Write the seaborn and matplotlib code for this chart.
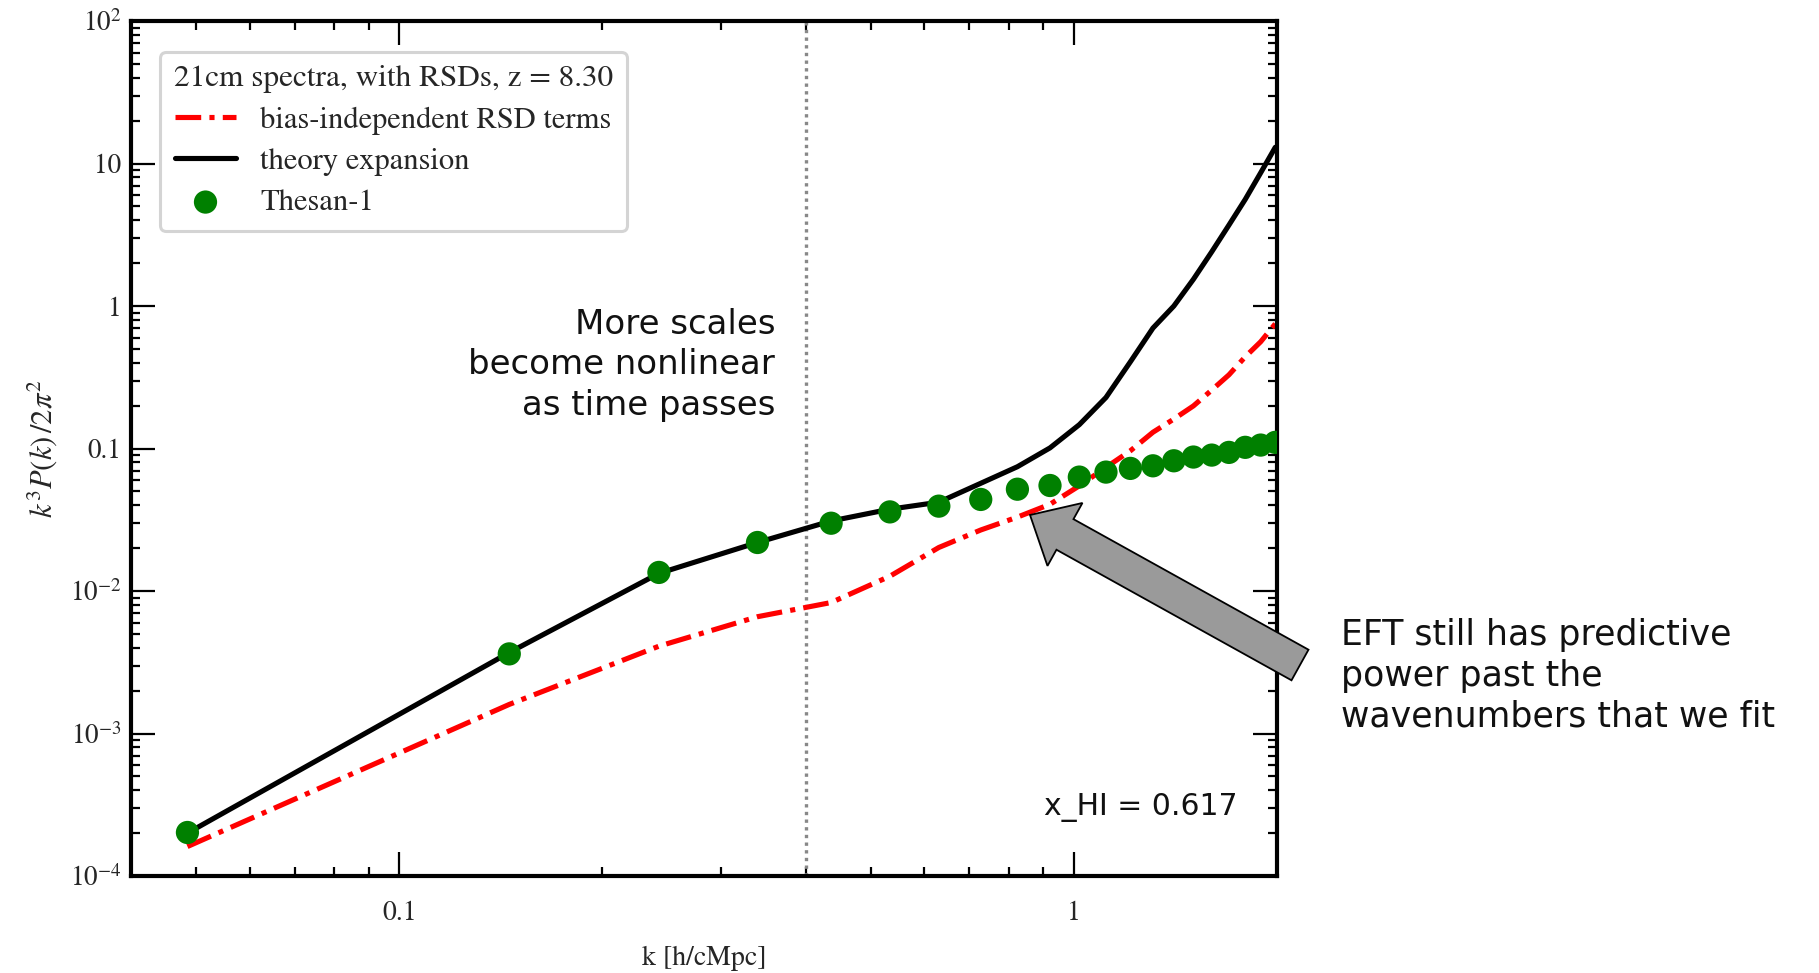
import numpy as np
import pandas as pd
import matplotlib
matplotlib.use("Agg")
import matplotlib.pyplot as plt
import matplotlib.patches as mpatches
from matplotlib.ticker import FixedLocator, FixedFormatter, LogLocator, NullFormatter
import seaborn as sns

# ---- data ----
k_vals = [0.0485, 0.1455, 0.2425, 0.3395, 0.4365, 0.5335, 0.6305, 0.7275, 0.8245, 0.9215,
          1.0185, 1.1155, 1.2125, 1.3095, 1.4065, 1.5035, 1.6005, 1.6975, 1.7945, 1.8915, 1.9885]
thesan = [2.02e-4, 3.62e-3, 0.0135, 0.0219, 0.0299, 0.0359, 0.0394, 0.0439, 0.0518, 0.0550,
          0.0630, 0.0683, 0.0725, 0.0756, 0.0820, 0.0871, 0.0899, 0.0939, 0.1019, 0.1057, 0.1104]
theory = [2.0e-4, 3.7e-3, 0.0133, 0.0219, 0.031, 0.0375, 0.0420, 0.0570, 0.0745, 0.101,
          0.147, 0.228, 0.406, 0.70, 1.0, 1.54, 2.4, 3.7, 5.6, 8.6, 13.0]
rsd_terms = [1.61e-4, 1.6e-3, 4.1e-3, 6.6e-3, 8.3e-3, 0.0127, 0.0202, 0.0268, 0.0330, 0.0406,
             0.0547, 0.0737, 0.0964, 0.130, 0.161, 0.199, 0.257, 0.329, 0.44, 0.561, 0.75]
k_fit_max = 0.4
x_ticks = [0.1, 1]
x_ticklabels = ["0.1", "1"]
y_ticks = [1e-4, 1e-3, 1e-2, 0.1, 1, 10, 100]
y_ticklabels = ["$10^{-4}$", "$10^{-3}$", "$10^{-2}$", "0.1", "1", "10", "$10^{2}$"]

df = pd.DataFrame({"k": k_vals, "thesan": thesan, "theory": theory, "rsd": rsd_terms})

sns.set_theme(style="ticks")
plt.rcParams["font.family"] = ["STIXGeneral", "DejaVu Serif"]
plt.rcParams["mathtext.fontset"] = "stix"

W, H = 1819, 973
fig = plt.figure(figsize=(W / 100, H / 100), dpi=100)
ax = fig.add_axes([131 / W, (H - 876) / H, (1277 - 131) / W, (876 - 21) / H])

ax.axvline(k_fit_max, color="#888888", ls=(0, (1, 1.3)), lw=2.4, zorder=1)

LW = 3.7
sns.lineplot(data=df, x="k", y="rsd", ax=ax, color="red", linewidth=LW,
             linestyle=(0, (5.0, 1.6, 1.0, 1.6)), label="bias-independent RSD terms",
             estimator=None, sort=False, zorder=2)
sns.lineplot(data=df, x="k", y="theory", ax=ax, color="black", linewidth=LW,
             label="theory expansion", estimator=None, sort=False, zorder=2)
sns.scatterplot(data=df, x="k", y="thesan", ax=ax, color="green", s=280,
                edgecolor="none", label="Thesan-1", zorder=3)
for ln in ax.get_lines()[1:]:
    ln.set_linewidth(LW)

ax.set_xscale("log")
ax.set_yscale("log")
ax.set_xlim(0.04, 2.0)
ax.set_ylim(1e-4, 1e2)

ax.xaxis.set_major_locator(FixedLocator(x_ticks))
ax.xaxis.set_major_formatter(FixedFormatter(x_ticklabels))
ax.xaxis.set_minor_locator(LogLocator(base=10, subs=np.arange(2, 10)))
ax.xaxis.set_minor_formatter(NullFormatter())
ax.yaxis.set_major_locator(FixedLocator(y_ticks))
ax.yaxis.set_major_formatter(FixedFormatter(y_ticklabels))
ax.yaxis.set_minor_locator(LogLocator(base=10, subs=np.arange(2, 10)))
ax.yaxis.set_minor_formatter(NullFormatter())

ax.tick_params(which="both", direction="in", top=True, right=True, width=1.6, color="black")
ax.tick_params(which="major", length=17)
ax.tick_params(which="minor", length=6.5)
ax.tick_params(axis="x", which="major", pad=18, labelsize=20)
ax.tick_params(axis="y", which="major", pad=7, labelsize=19.5)
for sp in ax.spines.values():
    sp.set_linewidth(3)
    sp.set_color("black")

ax.set_xlabel("k [h/cMpc]", fontsize=20, labelpad=14)
ax.set_ylabel(r"$k^3P(k)\,/2\pi^2$", fontsize=22, labelpad=8)

handles, labels = ax.get_legend_handles_labels()
leg = ax.legend(handles, labels, title="21cm spectra, with RSDs, z = 8.30",
                loc="upper left", bbox_to_anchor=(0.012, 0.982), fontsize=22,
                title_fontsize=22.5, labelspacing=0.42, handlelength=2.0,
                frameon=True, fancybox=True, borderpad=0.45)
leg.get_frame().set_edgecolor("#d4d4d4")
leg.get_frame().set_linewidth(2.2)
leg.get_frame().set_alpha(1)

sans = ["DejaVu Sans"]
fig.text(775 / W, 1 - 365 / H, "More scales\nbecome nonlinear\nas time passes",
         ha="right", va="center", multialignment="right", fontsize=24.5,
         family=sans, linespacing=1.3, color="#111111")
fig.text(1341 / W, 1 - 676 / H, "EFT still has predictive\npower past the\nwavenumbers that we fit",
         ha="left", va="center", multialignment="left", fontsize=25,
         family=sans, linespacing=1.25, color="#111111")
fig.text(1237 / W, 1 - 807 / H, "x_HI = 0.617", ha="right", va="center",
         fontsize=21.5, family=sans, color="#111111")

arrow = mpatches.FancyArrow(13.00, 3.08, -2.70, 1.50, width=0.35, head_width=0.72,
                            head_length=0.40, length_includes_head=True,
                            transform=fig.dpi_scale_trans, facecolor="#9a9a9a",
                            edgecolor="black", linewidth=1.3, zorder=10)
fig.add_artist(arrow)

fig.savefig("out.png", dpi=100)
